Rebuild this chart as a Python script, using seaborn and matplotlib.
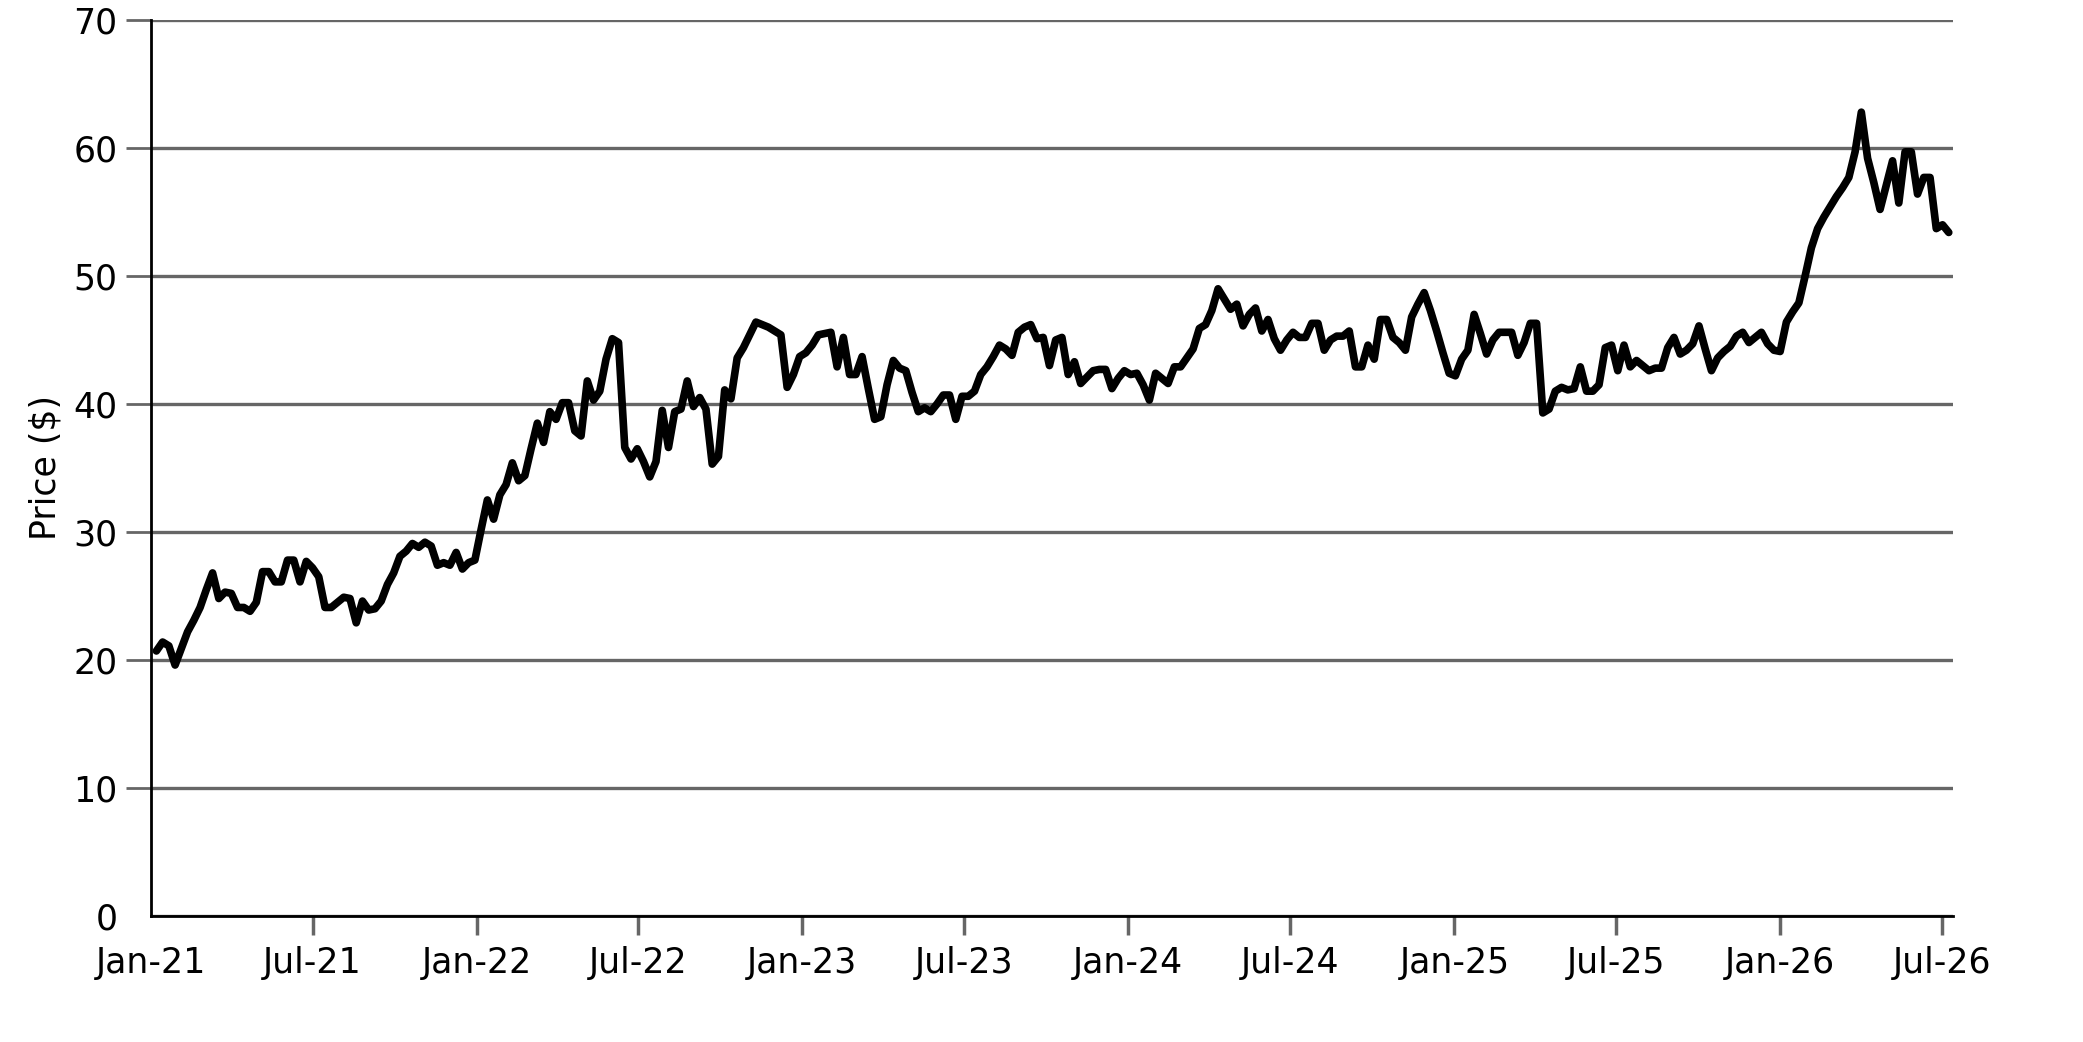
import matplotlib
matplotlib.use("Agg")
import matplotlib.pyplot as plt
import matplotlib.dates as mdates
import pandas as pd
import seaborn as sns

# weekly closing price
price_2021 = [20.7, 21.4, 21.1, 19.6, 20.9, 22.2, 23.1, 24.1, 25.5, 26.8,
              24.8, 25.3, 25.2, 24.1, 24.1, 23.8, 24.5, 26.9, 26.9, 26.1,
              26.1, 27.8, 27.8, 26.1, 27.7, 27.2, 26.5, 24.1, 24.1, 24.5,
              24.9, 24.8, 22.9, 24.6, 23.9, 24.0, 24.6, 25.9, 26.8, 28.1,
              28.5, 29.1, 28.8, 29.2, 28.9, 27.4, 27.6, 27.4, 28.4, 27.1,
              27.6, 27.8]
price_2022 = [30.2, 32.5, 31.0, 32.9, 33.7, 35.4, 34.0, 34.4, 36.5, 38.5,
              37.0, 39.4, 38.8, 40.1, 40.1, 37.9, 37.5, 41.8, 40.3, 41.0,
              43.5, 45.1, 44.8, 36.6, 35.7, 36.5, 35.5, 34.3, 35.5, 39.5,
              36.6, 39.4, 39.6, 41.8, 39.8, 40.5, 39.6, 35.3, 35.9, 41.1,
              40.4, 43.6, 44.4, 45.4, 46.4, 46.2, 46.0, 45.7, 45.4, 41.3,
              42.3, 43.7]
price_2023 = [44.0, 44.6, 45.4, 45.5, 45.6, 42.9, 45.2, 42.3, 42.3, 43.7,
              41.2, 38.8, 39.0, 41.5, 43.4, 42.8, 42.6, 40.9, 39.4, 39.7,
              39.4, 40.0, 40.7, 40.7, 38.8, 40.6, 40.6, 41.0, 42.3, 42.9,
              43.7, 44.6, 44.3, 43.8, 45.6, 46.0, 46.2, 45.1, 45.2, 43.0,
              45.0, 45.2, 42.3, 43.3, 41.6, 42.1, 42.6, 42.7, 42.7, 41.2,
              42.0, 42.6]
price_2024 = [42.3, 42.4, 41.5, 40.3, 42.4, 42.0, 41.6, 42.9, 42.9, 43.6,
              44.3, 45.9, 46.2, 47.3, 49.0, 48.2, 47.4, 47.8, 46.1, 47.0,
              47.5, 45.7, 46.6, 45.1, 44.2, 45.0, 45.6, 45.2, 45.2, 46.3,
              46.3, 44.2, 45.0, 45.3, 45.3, 45.7, 42.9, 42.9, 44.6, 43.5,
              46.6, 46.6, 45.2, 44.8, 44.2, 46.8, 47.8, 48.7, 47.3, 45.7,
              44.0, 42.4]
price_2025 = [42.2, 43.5, 44.2, 47.0, 45.5, 43.9, 45.0, 45.6, 45.6, 45.6,
              43.8, 44.8, 46.3, 46.3, 39.3, 39.6, 41.0, 41.3, 41.1, 41.2,
              42.9, 41.0, 41.0, 41.5, 44.4, 44.6, 42.6, 44.6, 42.9, 43.4,
              43.0, 42.6, 42.8, 42.8, 44.4, 45.2, 43.9, 44.2, 44.7, 46.1,
              44.3, 42.6, 43.6, 44.1, 44.5, 45.3, 45.6, 44.8, 45.2, 45.6,
              44.7, 44.2]
price_2026 = [44.1, 46.4, 47.2, 47.9, 50.0, 52.2, 53.7, 54.6, 55.4, 56.2,
              56.9, 57.7, 59.7, 62.8, 59.2, 57.3, 55.2, 57.1, 59.0, 55.7,
              59.7, 59.7, 56.4, 57.7, 57.7, 53.7, 54.0, 53.4]

prices = price_2021 + price_2022 + price_2023 + price_2024 + price_2025 + price_2026
df = pd.DataFrame({
    "date": pd.date_range("2021-01-07", periods=len(prices), freq="7D"),
    "price": prices,
})

sns.set_style("white")
plt.rcParams["font.family"] = ["DejaVu Sans"]

fig = plt.figure(figsize=(20.83, 10.42), dpi=100)
ax = fig.add_axes([0.0725, 0.121, 0.8652, 0.8598])

sns.lineplot(data=df, x="date", y="price", color="black", linewidth=5.5, ax=ax)

ax.set_xlim(pd.Timestamp("2021-01-01"), pd.Timestamp("2026-07-14"))
ax.set_ylim(0, 70)
ax.set_yticks(range(0, 71, 10))
ax.yaxis.grid(True, color="#666666", linewidth=2.4)
ax.xaxis.grid(False)
ax.set_axisbelow(True)

ax.xaxis.set_major_locator(mdates.MonthLocator(bymonth=[1, 7]))
ax.xaxis.set_major_formatter(mdates.DateFormatter("%b-%y"))

for side in ["top", "right"]:
    ax.spines[side].set_visible(False)
for side in ["left", "bottom"]:
    ax.spines[side].set_color("black")
    ax.spines[side].set_linewidth(2)

ax.tick_params(axis="y", left=True, length=18, width=2, color="#666666",
               pad=6, labelsize=25, labelcolor="black")
ax.tick_params(axis="x", bottom=True, length=14, width=2.5, color="#666666",
               pad=8, labelsize=25, labelcolor="black")
ax.yaxis.get_major_ticks()[0].tick1line.set_visible(False)
ax.xaxis.get_major_ticks()[0].tick1line.set_visible(False)

ax.set_xlabel("")
ax.set_ylabel("Price ($)", fontsize=25, labelpad=8, color="black")

fig.savefig("out.png", dpi=100)
